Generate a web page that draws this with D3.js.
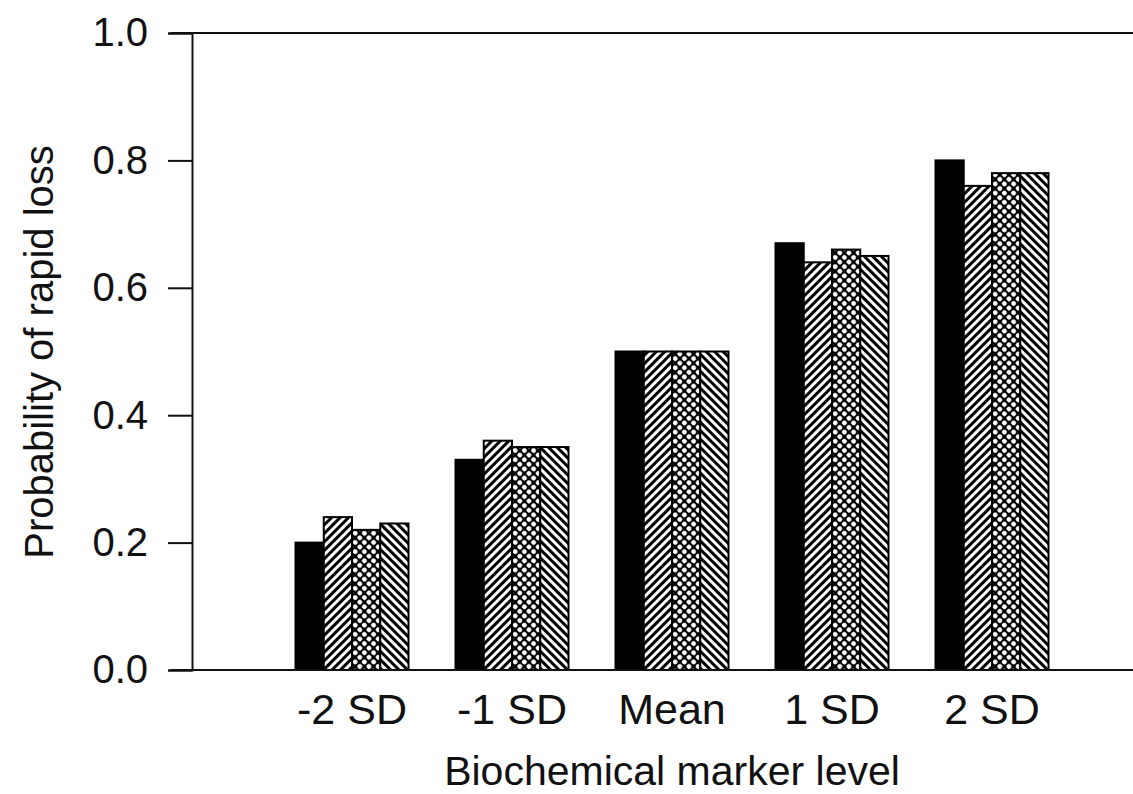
<!DOCTYPE html>
<html>
<head>
<meta charset="utf-8">
<script src="https://cdn.jsdelivr.net/npm/d3@7"></script>
<style>
  html, body { margin: 0; padding: 0; background: #fff; }
  svg { display: block; }
  text { font-family: "Liberation Sans", Arial, Helvetica, sans-serif; fill: #111; }
</style>
</head>
<body>
<svg id="chart" width="1133" height="794"></svg>
<script>
// Marker levels on the x axis
const categories = ["-2 SD", "-1 SD", "Mean", "1 SD", "2 SD"];
// Four estimates per marker level (solid, forward hatch, cross-hatch, back hatch)
const series1 = [0.20, 0.33, 0.50, 0.67, 0.80];
const series2 = [0.24, 0.36, 0.50, 0.64, 0.76];
const series3 = [0.22, 0.35, 0.50, 0.66, 0.78];
const series4 = [0.23, 0.35, 0.50, 0.65, 0.78];
const seriesNames = ["s1", "s2", "s3", "s4"];
const yTicks = [0.0, 0.2, 0.4, 0.6, 0.8, 1.0];

const allSeries = [series1, series2, series3, series4];

const svg = d3.select("#chart");
const W = 1133, H = 794;

// Pattern fills for the hatched bars
const defs = svg.append("defs");

const fwd = defs.append("pattern").attr("id", "hatchFwd")
  .attr("patternUnits", "userSpaceOnUse").attr("width", 6).attr("height", 6)
  .attr("patternTransform", "rotate(45)");
fwd.append("rect").attr("width", 6).attr("height", 6).attr("fill", "#fff");
fwd.append("rect").attr("x", 0).attr("y", 0).attr("width", 3).attr("height", 6).attr("fill", "#000");

const back = defs.append("pattern").attr("id", "hatchBack")
  .attr("patternUnits", "userSpaceOnUse").attr("width", 6).attr("height", 6)
  .attr("patternTransform", "rotate(-45)");
back.append("rect").attr("width", 6).attr("height", 6).attr("fill", "#fff");
back.append("rect").attr("x", 0).attr("y", 0).attr("width", 3).attr("height", 6).attr("fill", "#000");

const cross = defs.append("pattern").attr("id", "crossDots")
  .attr("patternUnits", "userSpaceOnUse").attr("width", 6.5).attr("height", 6.5)
  .attr("patternTransform", "rotate(45)");
cross.append("rect").attr("width", 6.5).attr("height", 6.5).attr("fill", "#000");
cross.append("circle").attr("cx", 3.25).attr("cy", 3.25).attr("r", 2.4).attr("fill", "#fff");

const fills = ["#000", "url(#hatchFwd)", "url(#crossDots)", "url(#hatchBack)"];

// Scales
const x0 = d3.scaleBand().domain(categories).range([272, 1072]).paddingInner(0).paddingOuter(0);
const groupWidth = 113;
const x1 = d3.scaleBand().domain(seriesNames).range([0, groupWidth]);
const y = d3.scaleLinear().domain([0, 1]).range([670, 33]);

// Bars
const groups = svg.append("g").selectAll("g")
  .data(categories)
  .join("g")
  .attr("transform", d => `translate(${x0(d) + x0.bandwidth() / 2 - groupWidth / 2},0)`);

groups.selectAll("rect")
  .data((c, i) => seriesNames.map((s, k) => ({ s, k, v: allSeries[k][i] })))
  .join("rect")
  .attr("x", d => x1(d.s))
  .attr("width", x1.bandwidth())
  .attr("y", d => y(d.v))
  .attr("height", d => y(0) - y(d.v))
  .attr("fill", d => fills[d.k])
  .attr("stroke", "#000")
  .attr("stroke-width", 2);

// Frame lines at top and bottom
svg.append("line").attr("x1", 171).attr("x2", W).attr("y1", y(1)).attr("y2", y(1))
  .attr("stroke", "#111").attr("stroke-width", 2);
svg.append("line").attr("x1", 171).attr("x2", W).attr("y1", y(0)).attr("y2", y(0))
  .attr("stroke", "#111").attr("stroke-width", 2);

// Y axis
const yAxis = d3.axisLeft(y).tickValues(yTicks).tickFormat(d3.format(".1f")).tickSize(24).tickPadding(20);
const yg = svg.append("g").attr("transform", "translate(192,0)").call(yAxis);
yg.select(".domain").attr("stroke", "#111").attr("stroke-width", 2);
yg.selectAll(".tick line").attr("stroke", "#111").attr("stroke-width", 2);
yg.selectAll(".tick text").attr("font-size", 40).attr("font-family", "Liberation Sans, Arial, sans-serif").attr("fill", "#111");

// X axis labels
const xAxis = d3.axisBottom(x0).tickSize(0).tickPadding(23);
const xg = svg.append("g").attr("transform", `translate(0,${y(0)})`).call(xAxis);
xg.select(".domain").remove();
xg.selectAll(".tick text").attr("font-size", 43).attr("font-family", "Liberation Sans, Arial, sans-serif").attr("fill", "#111");

// Axis titles
svg.append("text").attr("x", 672).attr("y", 785).attr("text-anchor", "middle")
  .attr("font-size", 41).text("Biochemical marker level");
svg.append("text").attr("transform", "translate(53,352) rotate(-90)").attr("text-anchor", "middle")
  .attr("font-size", 40).text("Probability of rapid loss");
</script>
</body>
</html>
